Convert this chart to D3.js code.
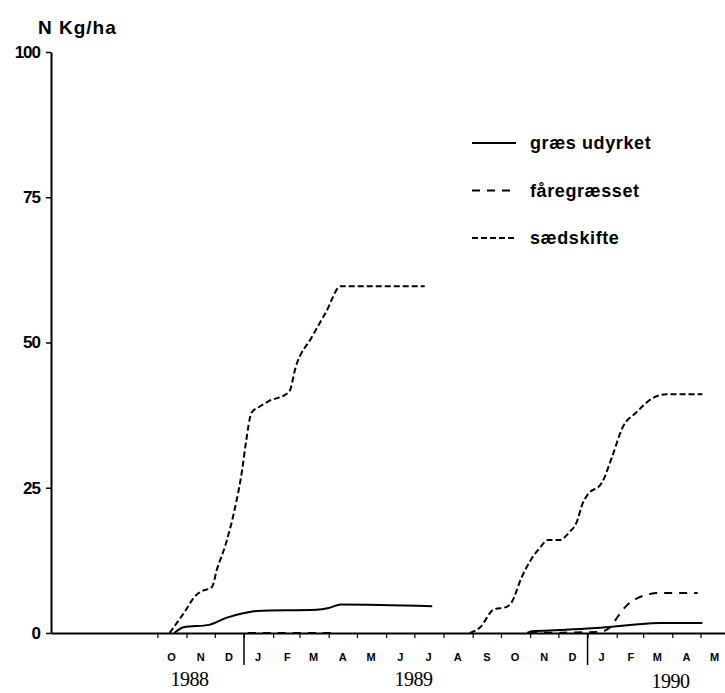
<!DOCTYPE html>
<html>
<head>
<meta charset="utf-8">
<script src="https://cdn.jsdelivr.net/npm/d3@7"></script>
<style>
  body { margin: 0; background: #fff; }
  svg { display: block; font-family: "Liberation Sans", Arial, sans-serif; }
</style>
</head>
<body>
<div id="wrapper"></div>
<script>
// values (N leached, kg/ha, cumulative)
const parseDate = d3.timeParse("%Y-%m-%d");

const graesDates1 = ["1988-10-19", "1988-10-29", "1988-11-25", "1988-12-13", "1988-12-31", "1989-01-15", "1989-03-19", "1989-04-01", "1989-04-14", "1989-07-20"];
const graesValues1 = [0, 1.0, 1.4, 2.6, 3.4, 3.8, 4.0, 4.3, 4.9, 4.6];
const graesDates2 = ["1989-10-29", "1989-11-03", "1989-12-02", "1990-01-06", "1990-02-04", "1990-02-18", "1990-03-19", "1990-05-03"];
const graesValues2 = [0, 0.3, 0.5, 0.8, 1.2, 1.4, 1.7, 1.7];

const faarDates1 = ["1989-01-05", "1989-04-09"];
const faarValues1 = [0, 0];
const faarDates2 = ["1989-10-31", "1990-01-14", "1990-01-25", "1990-02-02", "1990-02-12", "1990-02-23", "1990-03-08", "1990-03-17", "1990-04-28"];
const faarValues2 = [0, 0.2, 1.0, 2.8, 4.8, 6.0, 6.7, 6.9, 6.9];

const saedDates1 = ["1988-10-14", "1988-10-29", "1988-11-11", "1988-11-16", "1988-11-28", "1988-12-03", "1988-12-13", "1988-12-22", "1988-12-30", "1989-01-03", "1989-01-09", "1989-01-17", "1989-01-26", "1989-02-18", "1989-02-25", "1989-03-14", "1989-03-29", "1989-04-14", "1989-07-12"];
const saedValues1 = [0, 3.4, 6.5, 7.1, 7.9, 10.8, 15.5, 21.2, 28, 32.7, 37.9, 38.9, 39.8, 41.5, 45.8, 50.9, 55.2, 59.7, 59.7];
const saedDates2 = ["1989-08-29", "1989-09-09", "1989-09-23", "1989-10-07", "1989-10-12", "1989-10-23", "1989-11-03", "1989-11-11", "1989-11-20", "1989-12-02", "1989-12-13", "1989-12-20", "1989-12-27", "1990-01-01", "1990-01-16", "1990-01-27", "1990-02-07", "1990-02-22", "1990-03-11", "1990-03-26", "1990-05-03"];
const saedValues2 = [0, 1.0, 4.0, 4.5, 5.2, 9.6, 12.9, 14.6, 16.0, 16.0, 17.4, 18.9, 22.4, 23.8, 25.8, 30.3, 35.3, 38, 40.4, 41.1, 41.1];

const yTicks = [0, 25, 50, 75, 100];
const monthLetters = ["O", "N", "D", "J", "F", "M", "A", "M", "J", "J", "A", "S", "O", "N", "D", "J", "F", "M", "A", "M"];
const yearLabels = ["1988", "1989", "1990"];
const legendNames = ["græs udyrket", "fåregræsset", "sædskifte"];

async function drawChart() {
  const zip = (ds, vs) => ds.map((d, i) => ({ date: parseDate(d), value: vs[i] }));
  const series = [
    { name: legendNames[0], dash: null, parts: [zip(graesDates1, graesValues1), zip(graesDates2, graesValues2)] },
    { name: legendNames[1], dash: "8,7", parts: [zip(faarDates1, faarValues1), zip(faarDates2, faarValues2)] },
    { name: legendNames[2], dash: "6,3", parts: [zip(saedDates1, saedValues1), zip(saedDates2, saedValues2)] },
  ];

  // step 1: dimensions
  let dimensions = {
    width: 725,
    height: 693,
    margin: { top: 52, right: 0, bottom: 60, left: 51 },
  };
  dimensions.boundWidth = dimensions.width - dimensions.margin.left - dimensions.margin.right;
  dimensions.boundHeight = dimensions.height - dimensions.margin.top - dimensions.margin.bottom;

  // step 2: canvas
  const wrapper = d3.select("#wrapper")
    .append("svg")
    .attr("width", dimensions.width)
    .attr("height", dimensions.height);
  const bounds = wrapper.append("g")
    .attr("transform", `translate(${dimensions.margin.left},${dimensions.margin.top})`);

  // step 3: scales
  const xScale = d3.scaleTime()
    .domain([new Date(1988, 5, 10), new Date(1990, 4, 27)])
    .range([0, dimensions.boundWidth]);
  const yScale = d3.scaleLinear()
    .domain([0, 100])
    .range([dimensions.boundHeight, 0]);

  // step 4: data
  const lineGenerator = d3.line()
    .x(d => xScale(d.date))
    .y(d => yScale(d.value))
    .curve(d3.curveMonotoneX);

  series.forEach(s => {
    s.parts.forEach(p => {
      bounds.append("path")
        .datum(p)
        .attr("d", lineGenerator)
        .attr("fill", "none")
        .attr("stroke", "#000")
        .attr("stroke-width", 2)
        .attr("stroke-dasharray", s.dash);
    });
  });

  // step 5: peripherals
  const yAxis = bounds.append("g")
    .call(d3.axisLeft(yScale).tickValues(yTicks).tickSize(5).tickSizeOuter(0).tickPadding(6));
  yAxis.select(".domain").attr("stroke-width", 2);
  yAxis.selectAll(".tick line").attr("stroke-width", 1.5);
  yAxis.selectAll(".tick text")
    .attr("fill", "#000")
    .style("font-size", "17px")
    .style("font-weight", "bold")
    .style("letter-spacing", "-1px");

  const monthStarts = d3.timeMonth.range(new Date(1988, 9, 1), new Date(1990, 5, 1));
  const xAxis = bounds.append("g")
    .attr("transform", `translate(0,${dimensions.boundHeight})`)
    .call(d3.axisBottom(xScale).tickValues(monthStarts).tickFormat("").tickSize(5).tickSizeOuter(0));
  xAxis.select(".domain").attr("stroke-width", 2);
  xAxis.selectAll(".tick line").attr("stroke-width", 1.2);

  // year separators
  xAxis.selectAll(".sep")
    .data([new Date(1989, 0, 1), new Date(1990, 0, 1)])
    .join("line")
    .attr("x1", d => xScale(d)).attr("x2", d => xScale(d))
    .attr("y1", 0).attr("y2", 32)
    .attr("stroke", "#000")
    .attr("stroke-width", 1.5);

  xAxis.selectAll(".month")
    .data(monthStarts.slice(0, monthLetters.length))
    .join("text")
    .attr("x", d => xScale(d3.timeDay.offset(d, 15)))
    .attr("y", 28)
    .attr("fill", "#000")
    .attr("text-anchor", "middle")
    .style("font-size", "11px")
    .style("font-weight", "bold")
    .text((d, i) => monthLetters[i]);

  const yearPos = [new Date(1988, 10, 4), new Date(1989, 5, 30), new Date(1990, 2, 30)];
  xAxis.selectAll(".year")
    .data(yearLabels)
    .join("text")
    .attr("x", (d, i) => xScale(yearPos[i]))
    .attr("y", (d, i) => i === 2 ? 55 : 53)
    .attr("fill", "#000")
    .attr("text-anchor", "middle")
    .style("font-family", "'Liberation Serif', 'Times New Roman', serif")
    .style("font-size", "20px")
    .style("letter-spacing", "-0.5px")
    .text(d => d);

  wrapper.append("text")
    .attr("x", 38)
    .attr("y", 34)
    .style("font-size", "19px")
    .style("font-weight", "bold")
    .style("letter-spacing", "1px")
    .text("N Kg/ha");

  // legend
  const legend = wrapper.append("g")
    .attr("transform", "translate(472,143)");
  const rows = legend.selectAll("g")
    .data(series)
    .join("g")
    .attr("transform", (d, i) => `translate(0,${i * 47.5})`);
  rows.append("line")
    .attr("x1", 0).attr("x2", 44)
    .attr("stroke", "#000")
    .attr("stroke-width", 2)
    .attr("stroke-dasharray", d => d.dash);
  rows.append("text")
    .attr("x", 58)
    .attr("dy", "0.35em")
    .style("font-size", "18px")
    .style("font-weight", "bold")
    .style("letter-spacing", "0.6px")
    .text(d => d.name);
}
drawChart();
</script>
</body>
</html>
